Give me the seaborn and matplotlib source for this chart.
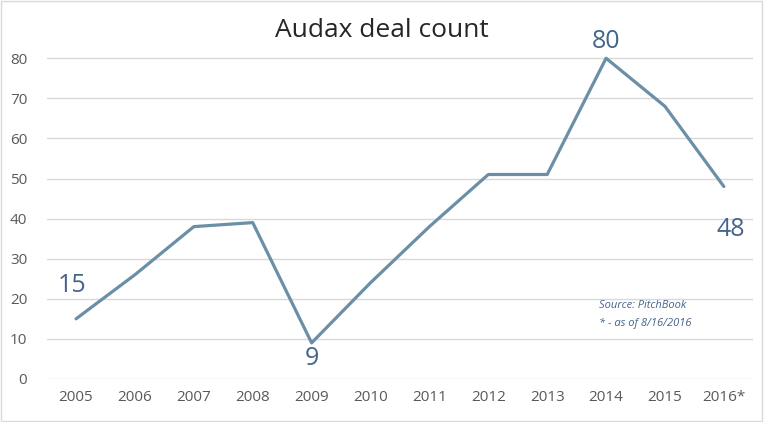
import matplotlib
matplotlib.use("Agg")
import matplotlib.pyplot as plt
import seaborn as sns
import pandas as pd

years = ["2005", "2006", "2007", "2008", "2009", "2010", "2011", "2012", "2013", "2014", "2015", "2016*"]
deals = [15, 26, 38, 39, 9, 24, 38, 51, 51, 80, 68, 48]
labelled = ["2005", "2009", "2014", "2016*"]
# label offsets in points (dx, dy), as Excel placed them
label_offsets = {"2005": (-3, 24), "2009": (0, -11), "2014": (0, 12), "2016*": (5, -31)}

df = pd.DataFrame({"year": years, "deals": deals})

sns.set_style("white")
plt.rcParams["font.family"] = ["Open Sans", "DejaVu Sans"]

fig = plt.figure(figsize=(7.64, 4.22), dpi=100)
ax = fig.add_axes([0.061, 0.102, 0.925, 0.855])

sns.lineplot(data=df, x="year", y="deals", sort=False, color="#6B8FA6", linewidth=2.3, ax=ax)

ax.set_xlim(-0.5, len(years) - 0.5)
ax.set_ylim(0, 90)
ax.set_yticks(range(0, 90, 10))
ax.grid(axis="y", color="#D9D9D9", linewidth=1)
ax.set_axisbelow(True)
for s in ax.spines.values():
    s.set_visible(False)
ax.tick_params(axis="both", length=0, labelsize=11, labelcolor="#595959")
ax.tick_params(axis="x", pad=8)
ax.tick_params(axis="y", pad=14)
ax.set_xlabel("")
ax.set_ylabel("")

# data labels
for i, (y, v) in enumerate(zip(years, deals)):
    if y in labelled:
        ax.annotate(str(v), (i, v), xytext=label_offsets[y], textcoords="offset points",
                    ha="center", va="center", fontsize=18, color="#44648C")

ax.text(0.781, 0.196, "Source: PitchBook", transform=ax.transAxes, fontsize=8,
        style="italic", color="#44648C")
ax.text(0.781, 0.147, "* - as of 8/16/2016", transform=ax.transAxes, fontsize=8,
        style="italic", color="#44648C")

fig.text(0.5, 0.928, "Audax deal count", ha="center", va="center", fontsize=19, color="#262626")

fig.patches.append(plt.Rectangle((0.001, 0.002), 0.997, 0.996, transform=fig.transFigure,
                                 fill=False, edgecolor="#D9D9D9", linewidth=1))

fig.savefig("out.png", dpi=100)
